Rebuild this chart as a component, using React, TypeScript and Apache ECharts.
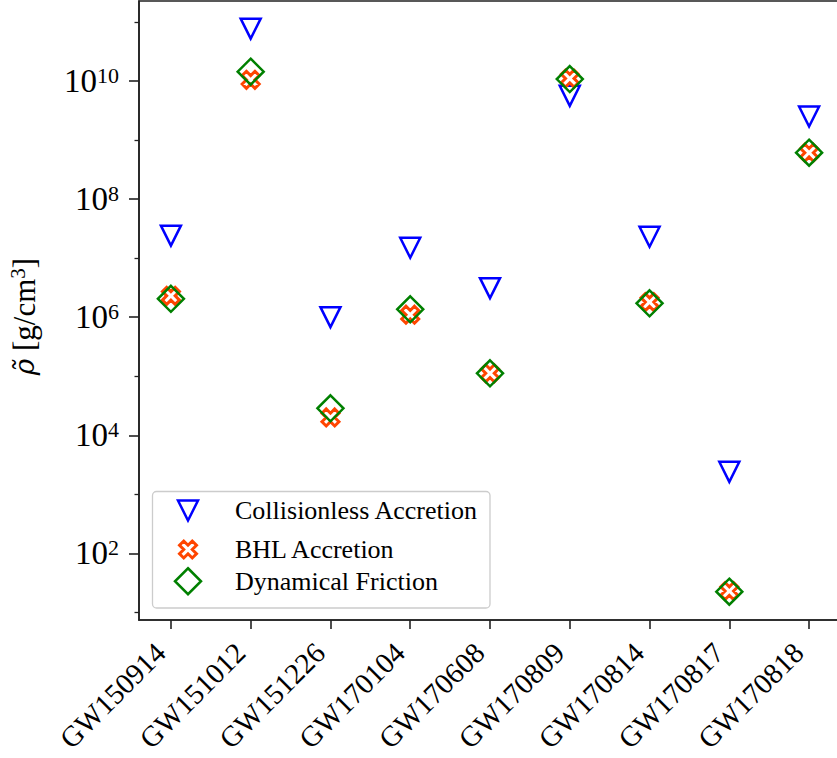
import React, { useEffect, useRef } from 'react';
import * as echarts from 'echarts';

const categories = ['GW150914', 'GW151012', 'GW151226', 'GW170104', 'GW170608', 'GW170809', 'GW170814', 'GW170817', 'GW170818'];
const collisionless = [2.4e7, 7.7e10, 1.0e6, 1.5e7, 3.1e6, 5.6e9, 2.3e7, 2.4e3, 2.5e9];
const bhl = [2.3e6, 1.05e10, 2.0e4, 1.1e6, 1.12e5, 1.1e10, 1.8e6, 23, 6.1e8];
const dynFriction = [2.05e6, 1.44e10, 2.86e4, 1.36e6, 1.12e5, 1.08e10, 1.72e6, 22.4, 6.1e8];
const majorTicks = [1e2, 1e4, 1e6, 1e8, 1e10];
const minorTicks = [1e1, 1e3, 1e5, 1e7, 1e9, 1e11];
const seriesNames = ['Collisionless Accretion', 'BHL Accretion', 'Dynamical Friction'];

const FONT = 'Liberation Serif';
const TRI = 'path://M0,0L2,0L1,2Z';
const DIA = 'path://M1,0L2,1L1,2L0,1Z';
const XSH = 'path://M3,0L4,1L3,2L4,3L3,4L2,3L1,4L0,3L1,2L0,1L1,0L2,1Z';
const AX = '#222';

export default function App() {
  const ref = useRef<HTMLDivElement>(null);
  useEffect(() => {
    document.body.style.margin = '0';
    const chart = echarts.init(ref.current!, null, { renderer: 'svg' });
    const xIdx = categories.map((_, i) => i);
    const toPts = (arr: number[]) => arr.map((v, i) => [i, v]);
    const legendBase = {
      orient: 'horizontal',
      padding: 0,
      itemWidth: 84,
      selectedMode: false,
      itemStyle: { borderWidth: 2.5, opacity: 1 },
      textStyle: { fontFamily: FONT, fontSize: 26, color: '#000', lineHeight: 14 },
    };
    chart.setOption({
      animation: false,
      backgroundColor: '#fff',
      grid: {
        left: 139, width: 702, top: 1, bottom: 138, containLabel: false, outerBoundsMode: 'none',
        show: true, borderColor: AX, borderWidth: 1.6, backgroundColor: 'transparent',
      },
      xAxis: {
        type: 'value', min: -0.4, max: 8.4,
        axisLine: { show: true, onZero: false, lineStyle: { color: AX, width: 1.6 } },
        axisTick: { show: true, customValues: xIdx, length: 9, lineStyle: { color: AX, width: 1.6 } },
        axisLabel: {
          customValues: xIdx,
          formatter: (v: number) => categories[Math.round(v)],
          rotate: 45, fontFamily: FONT, fontSize: 29, color: '#000', margin: 17,
          padding: [0, 15, 0, 0],
        },
        splitLine: { show: false },
      },
      yAxis: [
        {
          type: 'log', logBase: 10, min: 7.43, max: 2.265e11,
          axisLine: { show: true, onZero: false, lineStyle: { color: AX, width: 1.6 } },
          axisTick: { show: true, customValues: majorTicks, length: 10, lineStyle: { color: AX, width: 1.6 } },
          axisLabel: {
            customValues: majorTicks,
            formatter: (v: number) => `{b|10}{s|${Math.round(Math.log10(v))}}`,
            margin: 20,
            rich: {
              b: { fontFamily: FONT, fontSize: 33, lineHeight: 33, color: '#000' },
              s: { fontFamily: FONT, fontSize: 22, lineHeight: 19, verticalAlign: 'top', color: '#000' },
            },
          },
          splitLine: { show: false },
          name: '{r|ρ̃}{a| [g/cm}{s|3}{a|]}',
          nameLocation: 'middle',
          nameRotate: 90,
          nameGap: 98,
          nameTextStyle: {
            padding: [0, 12, 0, 0],
            rich: {
              r: { fontFamily: 'DejaVu Serif', fontSize: 28, lineHeight: 34, fontStyle: 'italic', color: '#000' },
              a: { fontFamily: FONT, fontSize: 31, lineHeight: 34, color: '#000' },
              s: { fontFamily: FONT, fontSize: 21, lineHeight: 20, verticalAlign: 'top', color: '#000' },
            },
          },
        },
        {
          type: 'log', logBase: 10, min: 7.43, max: 2.265e11, position: 'left',
          axisLine: { show: false, onZero: false },
          axisTick: { show: true, customValues: minorTicks, length: 4.5, lineStyle: { color: AX, width: 1.3 } },
          axisLabel: { show: false },
          splitLine: { show: false },
        },
      ],
      legend: [
        { ...legendBase, left: 176.75, top: 497.5, itemHeight: 20, data: [{ name: seriesNames[0], icon: TRI }] },
        { ...legendBase, left: 178, top: 536.5, itemHeight: 17, data: [{ name: seriesNames[1], icon: XSH }], itemStyle: { borderWidth: 3, opacity: 1 } },
        { ...legendBase, left: 173.75, top: 567, itemHeight: 26, data: [{ name: seriesNames[2], icon: DIA }] },
      ],
      graphic: [
        {
          type: 'rect', z: 3,
          shape: { x: 152.5, y: 491.5, width: 337.5, height: 116.5, r: 4 },
          style: { fill: 'rgba(255,255,255,0.8)', stroke: '#cccccc', lineWidth: 1.3 },
        },
      ],
      series: [
        {
          name: seriesNames[0], type: 'scatter', symbol: TRI, symbolSize: 20,
          data: toPts(collisionless),
          itemStyle: { color: 'rgba(0,0,0,0)', borderColor: '#0000ff', borderWidth: 2.5, opacity: 1 },
        },
        {
          name: seriesNames[1], type: 'scatter', symbol: XSH, symbolSize: 17,
          data: toPts(bhl),
          itemStyle: { color: '#ffffff', borderColor: '#ff4500', borderWidth: 3, opacity: 1 },
        },
        {
          name: seriesNames[2], type: 'scatter', symbol: DIA, symbolSize: 26,
          data: toPts(dynFriction),
          itemStyle: { color: 'rgba(0,0,0,0)', borderColor: '#008000', borderWidth: 2.5, opacity: 1 },
        },
      ],
    });
    return () => chart.dispose();
  }, []);
  return <div ref={ref} style={{ position: 'fixed', left: 0, top: 0, width: 837, height: 758 }} />;
}
